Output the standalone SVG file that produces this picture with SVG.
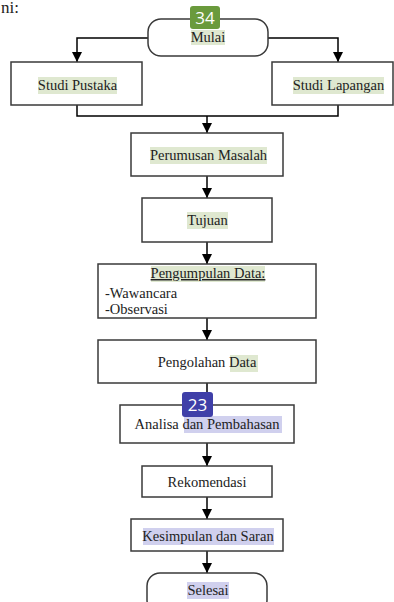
<svg xmlns="http://www.w3.org/2000/svg" width="394" height="602" viewBox="0 0 394 602">
<style>
.box{fill:#fff;stroke:#3a3a3a;stroke-width:1.5}
.t{font-family:"Liberation Serif",serif;font-size:14.5px;fill:#222;text-anchor:middle}
.tl{font-family:"Liberation Serif",serif;font-size:14.5px;fill:#222}
.hg{fill:#dfe8d0}
.hb{fill:#d0d0ee}
.ln{fill:none;stroke:#000;stroke-width:1.5}
.bt{font-family:"Open Sans",sans-serif;font-size:17px;fill:#fff;text-anchor:middle}
</style>
<defs>
<marker id="ar" viewBox="0 0 10 10" refX="10" refY="5" markerWidth="10" markerHeight="10" markerUnits="userSpaceOnUse" orient="auto">
<path d="M0,0 L10,5 L0,10 z" fill="#000"/>
</marker>
</defs>
<rect width="394" height="602" fill="#fff"/>
<text x="1" y="13" font-family="Liberation Serif,serif" font-size="17" fill="#222">ni:</text>
<g id="connectors">
<path class="ln" d="M148,38 H77 V62" marker-end="url(#ar)"/>
<path class="ln" d="M268,38 H338 V62" marker-end="url(#ar)"/>
<path class="ln" d="M77,105 V116 H338 V105"/>
<path class="ln" d="M207,116 V133" marker-end="url(#ar)"/>
<path class="ln" d="M207,176 V198" marker-end="url(#ar)"/>
<path class="ln" d="M207,242 V264" marker-end="url(#ar)"/>
<path class="ln" d="M207,318 V340" marker-end="url(#ar)"/>
<path class="ln" d="M207,383 V405" marker-end="url(#ar)"/>
<path class="ln" d="M207,443 V466" marker-end="url(#ar)"/>
<path class="ln" d="M207,497 V519" marker-end="url(#ar)"/>
<path class="ln" d="M207,551 V573" marker-end="url(#ar)"/>
</g>
<g id="mulai">
<rect class="box" x="148" y="19" width="120" height="37" rx="13"/>
<rect class="hg" x="191" y="30" width="34" height="15"/>
<text class="t" x="208" y="42">Mulai</text>
</g>
<g id="badge34">
<rect x="190" y="6" width="30" height="23" rx="3" fill="#6a9a3c"/>
<text class="bt" x="205" y="24">34</text>
</g>
<g id="studi-pustaka">
<rect class="box" x="11" y="62" width="131" height="43"/>
<rect class="hg" x="38" y="77" width="79" height="17"/>
<text class="t" x="77.5" y="90">Studi Pustaka</text>
</g>
<g id="studi-lapangan">
<rect class="box" x="272" y="62" width="121" height="43"/>
<rect class="hg" x="293" y="77" width="91" height="17"/>
<text class="t" x="338.5" y="90">Studi Lapangan</text>
</g>
<g id="perumusan">
<rect class="box" x="131" y="133" width="152" height="43"/>
<rect class="hg" x="150" y="147" width="117" height="17"/>
<text class="t" x="208.5" y="160">Perumusan Masalah</text>
</g>
<g id="tujuan">
<rect class="box" x="142" y="198" width="130" height="44"/>
<rect class="hg" x="187" y="212" width="41" height="17"/>
<text class="t" x="207.5" y="225">Tujuan</text>
</g>
<g id="pengumpulan">
<rect class="box" x="98" y="264" width="218" height="54"/>
<rect class="hg" x="151" y="266" width="114" height="16"/>
<text class="t" x="208" y="278" text-decoration="underline">Pengumpulan Data:</text>
<text class="tl" x="105" y="298">-Wawancara</text>
<text class="tl" x="105" y="314">-Observasi</text>
</g>
<g id="pengolahan">
<rect class="box" x="98" y="340" width="218" height="43"/>
<rect class="hg" x="230" y="355" width="28" height="17"/>
<text class="t" x="207" y="367">Pengolahan Data</text>
</g>
<g id="analisa">
<rect class="box" x="120" y="405" width="174" height="38"/>
<rect class="hb" x="184" y="416" width="98" height="17"/>
<text class="t" x="207" y="429">Analisa dan Pembahasan</text>
</g>
<g id="badge23">
<rect x="182" y="392" width="31" height="25" rx="3" fill="#3f3fa8"/>
<text class="bt" x="197.5" y="411">23</text>
</g>
<g id="rekomendasi">
<rect class="box" x="142" y="466" width="130" height="31"/>
<text class="t" x="207" y="487">Rekomendasi</text>
</g>
<g id="kesimpulan">
<rect class="box" x="131" y="519" width="152" height="32"/>
<rect class="hb" x="143" y="528" width="131" height="17"/>
<text class="t" x="208" y="541">Kesimpulan dan Saran</text>
</g>
<g id="selesai">
<rect class="box" x="147" y="573" width="120" height="40" rx="13"/>
<rect class="hb" x="187" y="582" width="42" height="17"/>
<text class="t" x="208" y="595">Selesai</text>
</g>
</svg>
